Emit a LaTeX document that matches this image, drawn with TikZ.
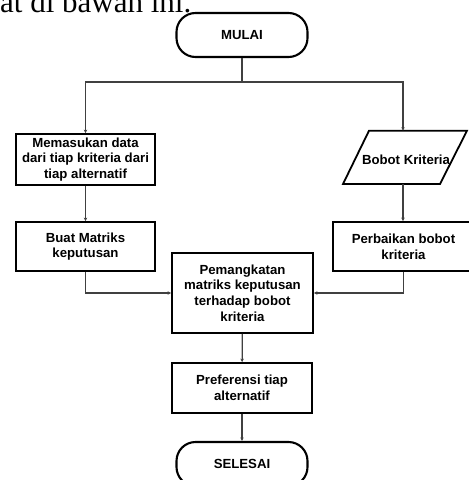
\documentclass[tikz,border=0pt]{standalone}
\usepackage{fontspec}
\setmainfont{Liberation Sans}
\newfontfamily\seriffont{Liberation Serif}
\usetikzlibrary{arrows.meta}
\begin{document}
\begin{tikzpicture}[x=1bp,y=-1bp,
  box/.style={draw=black, line width=1.8bp, align=center, inner sep=0pt,
    font=\bfseries\fontsize{13.2bp}{15.8bp}\selectfont},
  term/.style={box, rounded corners=19bp, line width=2.1bp,
    minimum width=131bp, minimum height=44bp},
  conn/.style={draw=black!75, line width=1.25bp},
  arr/.style={conn, -{Stealth[length=3.5bp,width=3.5bp]}}]
\useasboundingbox (0,0) rectangle (469,480);
\clip (0,0) rectangle (469,480);
\node[font=\seriffont\fontsize{31bp}{31bp}\selectfont, anchor=base west, inner sep=0pt] (cap) at (0,12.7) {at di bawah ini.};
% nodes
\node[term] (start) at (242,35) {MULAI};
\node[box, minimum width=139bp, minimum height=51bp] (in) at (85.5,159.5) {Memasukan data\\dari tiap kriteria dari\\tiap alternatif};
\node[box, minimum width=139bp, minimum height=49bp] (buat) at (85.5,246.5) {Buat Matriks\\keputusan};
\node[box, minimum width=141bp, minimum height=49bp] (perb) at (403.5,246.5) {Perbaikan bobot\\kriteria};
\node[box, minimum width=141bp, minimum height=80bp] (pang) at (242.5,293) {Pemangkatan\\matriks keputusan\\terhadap bobot\\kriteria};
\node[box, minimum width=140bp, minimum height=50bp] (pref) at (242,388) {Preferensi tiap\\alternatif};
\node[term] (end) at (242,464) {SELESAI};
% parallelogram
\draw[line width=1.8bp] (369,130.7) -- (467,130.7) -- (440,184) -- (343,184) -- cycle;
\node[box, draw=none] (para) at (406,160) {Bobot Kriteria};
\coordinate (ptop) at (403,130.7);
\coordinate (pbot) at (403,184);
% connectors
\coordinate (j) at (242,82);
\draw[conn] (start) -- (j);
\draw[arr] (j) -| (in);
\draw[arr] (j) -| (ptop);
\draw[arr] (in) -- (buat);
\draw[arr] (pbot) -- (pbot |- perb.north);
\draw[arr] (buat) |- (pang);
\draw[arr] (perb) |- (pang);
\draw[arr] (pang) -- (pref);
\draw[arr] (pref) -- (end);
\end{tikzpicture}
\end{document}
